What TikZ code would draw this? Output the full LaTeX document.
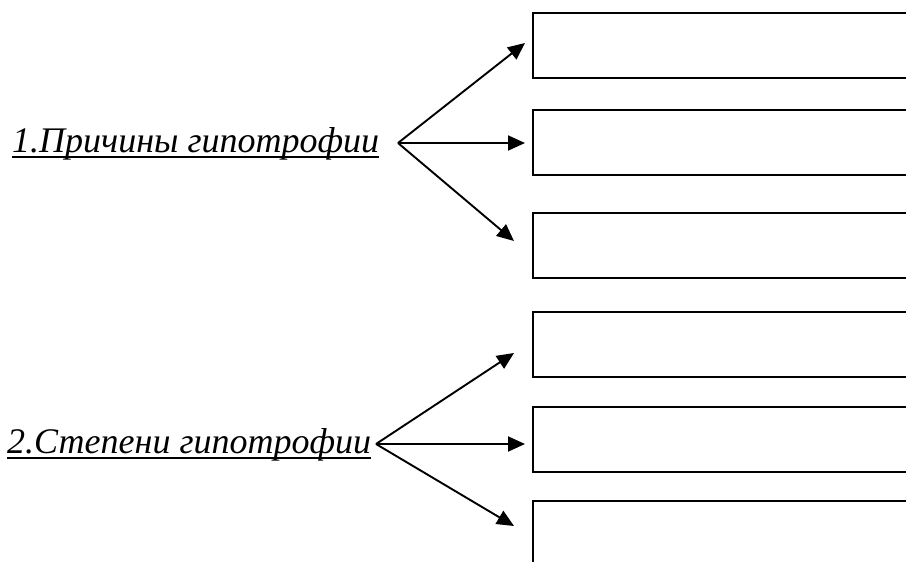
\documentclass[tikz,border=0pt]{standalone}
\usepackage{fontspec}
\setmainfont{Liberation Serif}
\usetikzlibrary{arrows.meta}
\begin{document}
\begin{tikzpicture}[x=1pt,y=-1pt,
  cell/.style={draw,line width=2pt,anchor=north west,minimum width=420pt,minimum height=65pt,inner sep=0pt},
  head/.style={anchor=base west,inner sep=0pt,font=\fontsize{36}{36}\selectfont\itshape},
  rule/.style={line width=2pt},
  link/.style={line width=1.9pt,-{Triangle[length=17pt,width=15pt]}}]
\useasboundingbox (0,0) rectangle (906,562);
\clip (0,0) rectangle (906,562);
\fill[white] (0,0) rectangle (906,562);

% answer boxes, running off the right edge
\node[cell] (b1) at (532,12) {};
\node[cell] (b2) at (532,109) {};
\node[cell] (b3) at (532,212) {};
\node[cell] (b4) at (532,311) {};
\node[cell] (b5) at (532,406) {};
\node[cell] (b6) at (532,500) {};

% headings
\node[head] (h1) at (12,152) {1.Причины гипотрофии};
\node[head] (h2) at (7,453) {2.Степени гипотрофии};
\draw[rule] ([yshift=-5pt]h1.base west) -- ([yshift=-5pt]h1.base east);
\draw[rule] ([yshift=-5pt]h2.base west) -- ([yshift=-5pt]h2.base east);

% fork points and arrow ends
\coordinate (v1) at (398,143);
\coordinate (v2) at (376,444);
\coordinate (t1) at (525,43);
\coordinate (t2) at (525,143);
\coordinate (t3) at (514,241);
\coordinate (t4) at (514,353);
\coordinate (t5) at (525,444);
\coordinate (t6) at (514,526);

\draw[link] (v1) -- (t1);
\draw[link] (v1) -- (t2);
\draw[link] (v1) -- (t3);
\draw[link] (v2) -- (t4);
\draw[link] (v2) -- (t5);
\draw[link] (v2) -- (t6);
\end{tikzpicture}
\end{document}
